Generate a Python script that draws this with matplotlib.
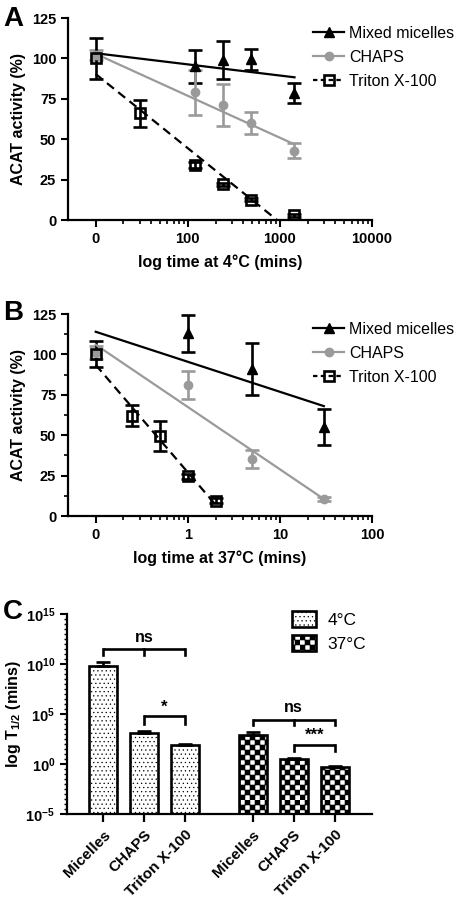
import warnings
import numpy as np
import matplotlib
matplotlib.use('Agg')
import matplotlib.pyplot as plt
import matplotlib.hatch as mhatch
from matplotlib.path import Path
from matplotlib.lines import Line2D

warnings.filterwarnings('ignore', message='hatch must consist')

plt.rcParams['font.family'] = ['Liberation Sans', 'DejaVu Sans']
plt.rcParams['font.weight'] = 'bold'
plt.rcParams['axes.labelweight'] = 'bold'
plt.rcParams['mathtext.fontset'] = 'custom'
plt.rcParams['mathtext.rm'] = 'Liberation Sans:bold'
plt.rcParams['mathtext.bf'] = 'Liberation Sans:bold'
plt.rcParams['mathtext.it'] = 'Liberation Sans:bold'
plt.rcParams['hatch.linewidth'] = 0.4
plt.rcParams['axes.linewidth'] = 1.6

GREY = '#9a9a9a'

# ---- panel A : 4 C (minutes) ----
mm_t_a = [120, 240, 480, 1440]
mm_a = [95, 99, 99.5, 78.5]
mm_a_err = [10, 12, 6.5, 6]
chaps_t_a = [0, 120, 240, 480, 1440]
chaps_a = [102, 79, 71, 60, 43]
chaps_a_err = [3, 14, 13, 7, 4.5]
triton_t_a = [0, 30, 120, 240, 480, 1440]
triton_a = [100, 66, 34, 22, 12.5, 3]
triton_a_err = [12.5, 8.5, 2, 1, 1, 1]
# regression lines (start/end)
mm_fit_t_a, mm_fit_a = [0, 1440], [103.2, 88.3]
chaps_fit_t_a, chaps_fit_a = [0, 1440], [102.8, 46.8]
triton_fit_t_a, triton_fit_a = [0, 930], [90.3, 0]

# ---- panel B : 37 C (minutes) ----
mm_t_b = [1, 5, 30]
mm_b = [113, 91, 55]
mm_b_err = [11.5, 16, 11]
chaps_t_b = [0, 1, 5, 30]
chaps_b = [101, 81, 35.5, 10.5]
chaps_b_err = [4, 8.5, 5.5, 1]
triton_t_b = [0, 0.25, 0.5, 1, 2]
triton_b = [100, 62, 49.5, 24.5, 9.5]
triton_b_err = [8, 6.5, 9.5, 1.5, 1.5]
mm_fit_t_b, mm_fit_b = [0, 30], [114, 68]
chaps_fit_t_b, chaps_fit_b = [0, 30], [106, 10.5]
triton_fit_t_b, triton_fit_b = [0, 2], [93.5, 7]

# ---- panel C : half lives ----
bar_labels = ['Micelles', 'CHAPS', 'Triton X-100']
thalf_4 = [6.8e9, 1.26e3, 85]
thalf_4_hi = [1.6e10, 1.86e3, 107]
thalf_37 = [860, 3.2, 0.5]
thalf_37_hi = [1.58e3, 3.7, 0.59]


class CheckerHatch(mhatch.HatchPatternBase):
    # filled checkerboard squares, switched on with '#'
    def __init__(self, hatch, density):
        self.n = 20 if '#' in hatch else 0
        self.num_vertices = (self.n * self.n // 2) * 5

    def set_vertices_and_codes(self, vertices, codes):
        s = 1.0 / self.n
        k = 0
        for i in range(self.n):
            for j in range(self.n):
                if (i + j) % 2:
                    continue
                x0, y0 = j * s, i * s
                vertices[k:k + 5] = [(x0, y0), (x0 + s, y0), (x0 + s, y0 + s),
                                     (x0, y0 + s), (x0, y0)]
                codes[k:k + 5] = [Path.MOVETO, Path.LINETO, Path.LINETO,
                                  Path.LINETO, Path.CLOSEPOLY]
                k += 5


mhatch._hatch_types.append(CheckerHatch)


def xpos(t, zero_at):
    t = np.asarray(t, dtype=float)
    return np.where(t == 0, zero_at, t)


def style_axis(ax):
    ax.spines['top'].set_visible(False)
    ax.spines['right'].set_visible(False)
    ax.tick_params(which='major', length=5, width=1.5, labelsize=10.5)
    ax.tick_params(which='minor', length=3, width=1.2)


def draw_kinetics(ax, zero_at, series, fits):
    ekw = dict(capsize=4.8, elinewidth=1.9, capthick=1.9, linestyle='none')
    mm, ch, tr = series
    ax.errorbar(xpos(mm[0], zero_at), mm[1], yerr=mm[2], color='black',
                marker='^', markersize=7, **ekw)
    ax.errorbar(xpos(ch[0], zero_at), ch[1], yerr=ch[2], color=GREY,
                marker='o', markersize=6, **ekw)
    ax.errorbar(xpos(tr[0], zero_at), tr[1], yerr=tr[2], color='black',
                marker='s', markersize=7, mfc='none', mew=1.9, **ekw)
    ax.plot(xpos(fits[0][0], zero_at), fits[0][1], color='black', lw=1.6)
    ax.plot(xpos(fits[1][0], zero_at), fits[1][1], color=GREY, lw=1.6)
    ax.plot(xpos(fits[2][0], zero_at), fits[2][1], color='black', lw=1.6,
            ls=(0, (4, 2.5)))
    handles = [
        Line2D([], [], color='black', marker='^', markersize=7, lw=1.6),
        Line2D([], [], color=GREY, marker='o', markersize=6, lw=1.6),
        Line2D([], [], color='black', marker='s', markersize=7, mfc='none',
               mew=1.9, lw=1.6, ls=(0, (2, 1.5))),
    ]
    ax.legend(handles, ['Mixed micelles', 'CHAPS', 'Triton X-100'],
              loc='upper left', bbox_to_anchor=(0.78, 1.0), frameon=False,
              borderpad=0, handlelength=1.95, handletextpad=0.3,
              labelspacing=0.55, prop={'weight': 'normal', 'size': 11.5})
    ax.set_ylim(0, 125)
    ax.set_yticks([0, 25, 50, 75, 100, 125])
    ax.set_ylabel('ACAT activity (%)', fontsize=11.5, labelpad=4)


fig = plt.figure(figsize=(4.57, 9.0), dpi=100)

# panel A
axA = fig.add_axes([68 / 457, 1 - 220 / 900, 304 / 457, 202 / 900])
axA.set_xscale('log')
draw_kinetics(axA, 10,
              [(mm_t_a, mm_a, mm_a_err), (chaps_t_a, chaps_a, chaps_a_err),
               (triton_t_a, triton_a, triton_a_err)],
              [(mm_fit_t_a, mm_fit_a), (chaps_fit_t_a, chaps_fit_a),
               (triton_fit_t_a, triton_fit_a)])
axA.set_xlim(5, 10000)
axA.set_xticks([10, 100, 1000, 10000], ['0', '100', '1000', '10000'])
axA.set_xticks([m * d for d in (10, 100, 1000) for m in range(2, 10)], minor=True)
axA.xaxis.set_minor_formatter(plt.NullFormatter())
axA.set_xlabel('log time at 4\u00b0C (mins)', fontsize=11.5, labelpad=6)
style_axis(axA)

# panel B
axB = fig.add_axes([68 / 457, 1 - 516 / 900, 304 / 457, 202 / 900])
axB.set_xscale('log')
draw_kinetics(axB, 0.1,
              [(mm_t_b, mm_b, mm_b_err), (chaps_t_b, chaps_b, chaps_b_err),
               (triton_t_b, triton_b, triton_b_err)],
              [(mm_fit_t_b, mm_fit_b), (chaps_fit_t_b, chaps_fit_b),
               (triton_fit_t_b, triton_fit_b)])
axB.set_xlim(0.05, 100)
axB.set_xticks([0.1, 1, 10, 100], ['0', '1', '10', '100'])
axB.set_xticks([m * d for d in (0.1, 1, 10) for m in range(2, 10)], minor=True)
axB.xaxis.set_minor_formatter(plt.NullFormatter())
axB.set_yticks(np.arange(12.5, 125, 25), minor=True)
axB.set_xlabel('log time at 37\u00b0C (mins)', fontsize=11.5, labelpad=6)
style_axis(axB)

# panel C
axC = fig.add_axes([67 / 457, 1 - 814 / 900, 305 / 457, 200 / 900])
axC.set_yscale('log')
x4 = np.arange(3)
x37 = np.arange(3) + 3.65
err4 = np.array(thalf_4_hi) - np.array(thalf_4)
err37 = np.array(thalf_37_hi) - np.array(thalf_37)
bkw = dict(width=0.68, bottom=1e-5, facecolor='white', edgecolor='black',
           linewidth=1.9, error_kw=dict(ecolor='black', elinewidth=1.9,
                                        capsize=4.8, capthick=1.9))
axC.bar(x4, thalf_4, yerr=[np.zeros(3), err4], hatch='....', label='4\u00b0C', **bkw)
axC.bar(x37, thalf_37, yerr=[np.zeros(3), err37], hatch='#', label='37\u00b0C', **bkw)
axC.set_ylim(1e-5, 1e15)
axC.set_xlim(-0.88, 6.56)
axC.set_yticks([1e-5, 1, 1e5, 1e10, 1e15],
               ['$\\mathbf{10^{-5}}$', '$\\mathbf{10^{0}}$', '$\\mathbf{10^{5}}$',
                '$\\mathbf{10^{10}}$', '$\\mathbf{10^{15}}$'])
axC.set_yticks(10.0 ** np.arange(-5, 15.01, 0.5), minor=True)
axC.yaxis.set_minor_formatter(plt.NullFormatter())
axC.set_xticks(np.concatenate([x4, x37]), bar_labels * 2, rotation=45,
               ha='right', rotation_mode='anchor')
axC.set_ylabel('log T$_{\\mathbf{1/2}}$ (mins)', fontsize=11.5, labelpad=2)
style_axis(axC)
axC.tick_params(axis='x', length=6, width=1.6, labelsize=11, pad=4)
axC.tick_params(axis='y', which='minor', length=2.5, width=1.0)

# significance brackets (log10 heights)
brackets = [((0, 2), [0, 1, 2], 11.53, 10.93, 12.6, 'ns'),
            ((1, 2), [1, 2], 4.77, 4.0, 5.7, '*'),
            ((3.65, 5.65), [3.65, 4.65, 5.65], 4.43, 3.87, 5.7, 'ns'),
            ((4.65, 5.65), [4.65, 5.65], 1.93, 1.27, 2.87, '***')]
for (xa, xb), drops, ytop, ybot, ytxt, lab in brackets:
    axC.plot([xa, xb], [10 ** ytop, 10 ** ytop], color='black', lw=1.9,
             solid_capstyle='butt')
    for xd in drops:
        axC.plot([xd, xd], [10 ** ybot, 10 ** ytop], color='black', lw=1.9)
    axC.text((xa + xb) / 2, 10 ** ytxt, lab, ha='center', va='center',
             fontsize=11.5 if lab == 'ns' else 12)

axC.legend(loc='upper left', bbox_to_anchor=(0.71, 1.06), frameon=False,
           borderpad=0, handlelength=1.35, handleheight=1.05, handletextpad=0.7,
           labelspacing=0.4, prop={'weight': 'normal', 'size': 12.5})

for letter, top in (('A', 6), ('B', 300), ('C', 599)):
    fig.text(3 / 457, 1 - top / 900, letter, fontsize=20, fontweight='bold',
             va='top', ha='left')

fig.savefig('out.png', dpi=100)
